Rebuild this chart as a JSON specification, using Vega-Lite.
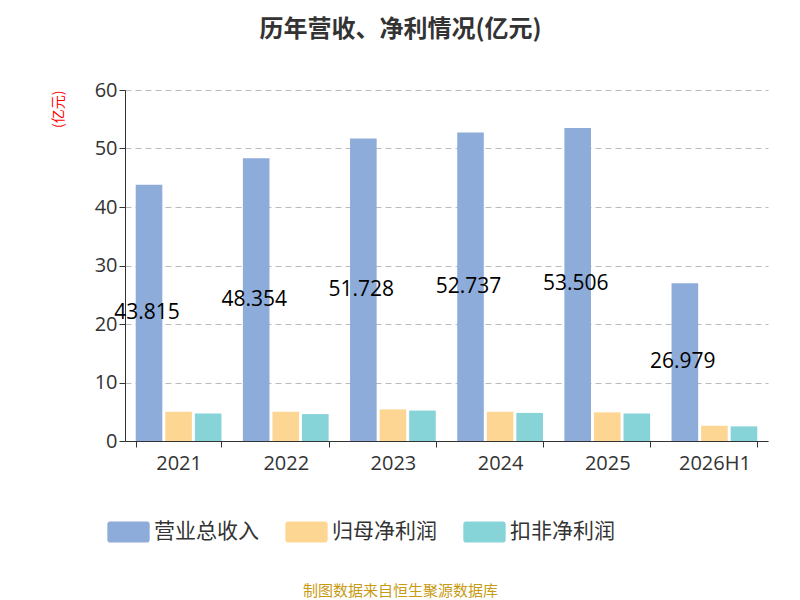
{
  "$schema": "https://vega.github.io/schema/vega-lite/v6.json",
  "autosize": "none",
  "width": 643,
  "height": 351,
  "padding": {"left": 125, "top": 90, "right": 32, "bottom": 159},
  "background": "white",
  "title": {"text": "历年营收、净利情况(亿元)", "fontSize": 24, "font": "Noto Sans CJK SC", "fontWeight": "bold", "color": "#333333", "anchor": "middle", "frame": "group", "dx": -46, "offset": 38},
  "config": {"font": "Noto Sans CJK SC", "view": {"stroke": null}},
  "data": {"values": [
    {"year": "2021", "series": "营业总收入", "value": 43.815, "order": 0},
    {"year": "2022", "series": "营业总收入", "value": 48.354, "order": 0},
    {"year": "2023", "series": "营业总收入", "value": 51.728, "order": 0},
    {"year": "2024", "series": "营业总收入", "value": 52.737, "order": 0},
    {"year": "2025", "series": "营业总收入", "value": 53.506, "order": 0},
    {"year": "2026H1", "series": "营业总收入", "value": 26.979, "order": 0},
    {"year": "2021", "series": "归母净利润", "value": 5.0, "order": 1},
    {"year": "2022", "series": "归母净利润", "value": 5.0, "order": 1},
    {"year": "2023", "series": "归母净利润", "value": 5.4, "order": 1},
    {"year": "2024", "series": "归母净利润", "value": 5.0, "order": 1},
    {"year": "2025", "series": "归母净利润", "value": 4.9, "order": 1},
    {"year": "2026H1", "series": "归母净利润", "value": 2.6, "order": 1},
    {"year": "2021", "series": "扣非净利润", "value": 4.7, "order": 2},
    {"year": "2022", "series": "扣非净利润", "value": 4.6, "order": 2},
    {"year": "2023", "series": "扣非净利润", "value": 5.2, "order": 2},
    {"year": "2024", "series": "扣非净利润", "value": 4.8, "order": 2},
    {"year": "2025", "series": "扣非净利润", "value": 4.7, "order": 2},
    {"year": "2026H1", "series": "扣非净利润", "value": 2.5, "order": 2}
  ]},
  "encoding": {
    "x": {"field": "year", "type": "nominal", "scale": {"paddingInner": 0.2, "paddingOuter": 0.1},
      "axis": {"title": "制图数据来自恒生聚源数据库", "titleColor": "#c89b14", "titleFontSize": 15, "titleFontWeight": "normal", "titleX": 275, "titleY": 142, "labelAngle": 0, "labelFontSize": 20, "labelFont": "Open Sans", "labelColor": "#333333", "labelPadding": 6, "domainColor": "#333333", "tickColor": "#333333", "tickBand": "extent", "tickSize": 6}},
    "xOffset": {"field": "series", "type": "nominal", "sort": ["营业总收入", "归母净利润", "扣非净利润"], "scale": {"paddingInner": 0.1}}
  },
  "layer": [
    {
      "mark": {"type": "bar"},
      "encoding": {
        "y": {"field": "value", "type": "quantitative", "scale": {"domain": [0, 60]},
          "axis": {"values": [0, 10, 20, 30, 40, 50, 60], "title": "(亿元)", "titleColor": "red", "titleFontSize": 14, "titleFontWeight": "normal", "titleX": -60, "titleY": 0, "titleAlign": "right", "labelFontSize": 20, "labelFont": "Open Sans", "labelColor": "#333333", "domain": true, "domainColor": "#333333", "tickColor": "#333333", "tickSize": 6, "gridDash": [6, 4], "gridColor": "#bbbbbb"}},
        "color": {"field": "series", "type": "nominal", "sort": ["营业总收入", "归母净利润", "扣非净利润"],
          "scale": {"range": ["#8eacda", "#fdd693", "#86d3d8"]},
          "legend": {"title": null, "orient": "none", "direction": "horizontal", "legendX": -10, "legendY": 428, "symbolType": "M-1.4,-0.8 h2.8 a0.2,0.2 0 0 1 0.2,0.2 v1.2 a0.2,0.2 0 0 1 -0.2,0.2 h-2.8 a-0.2,0.2 0 0 1 -0.2,-0.2 v-1.2 a0.2,0.2 0 0 1 0.2,-0.2 z", "symbolSize": 700, "symbolStrokeWidth": 0, "labelFontSize": 21, "labelColor": "#333333", "columnPadding": 26, "labelOffset": 12}}
      }
    },
    {
      "transform": [{"filter": "datum.order == 0"}, {"calculate": "datum.value / 2", "as": "mid"}],
      "mark": {"type": "text", "fontSize": 21, "font": "Open Sans", "color": "black", "dx": -2},
      "encoding": {
        "y": {"field": "mid", "type": "quantitative"},
        "text": {"field": "value", "type": "quantitative", "format": ".3f"}
      }
    }
  ]
}
